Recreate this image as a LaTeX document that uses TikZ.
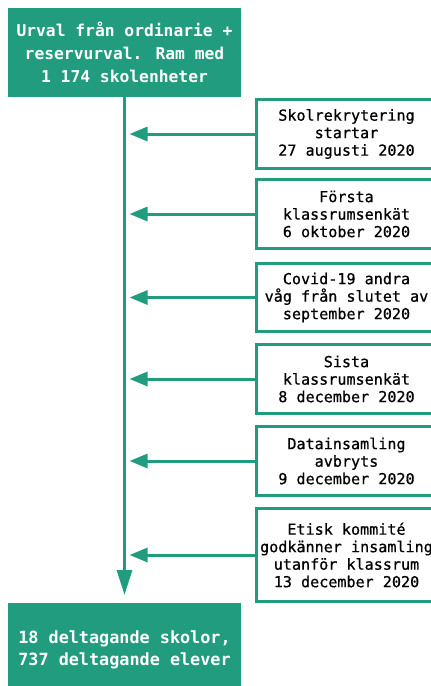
\documentclass[tikz,border=0pt]{standalone}
\usepackage{fontspec}
\setmainfont{DejaVu Sans Mono}
\newfontfamily\evfont{DejaVu Sans Mono}[FakeBold=0.7]
\usetikzlibrary{arrows.meta}
\definecolor{teal1}{RGB}{34,156,126}
\tikzset{
  mainbox/.style={fill=teal1, draw=none, minimum width=233pt, inner sep=0pt, outer sep=0pt,
    text=white, align=center, font=\fontsize{16.3}{23}\selectfont\bfseries},
  evbox/.style={draw=teal1, line width=3pt, fill=white, minimum width=180pt, inner sep=0pt, outer sep=0pt,
    align=center, font=\evfont\fontsize{15.1}{17.5}\selectfont},
  flow/.style={draw=teal1, line width=3pt, -{Triangle[length=25pt,width=15pt]}},
  evarrow/.style={draw=teal1, line width=3pt, -{Triangle[length=18pt,width=14pt]}},
}
\begin{document}
\begin{tikzpicture}[x=1pt,y=-1pt]
\useasboundingbox (0,0) rectangle (431,686);
\node[mainbox, minimum height=89pt] (top) at (124.5,52.5) {Urval från ordinarie +\\reservurval. Ram med\\1 174 skolenheter};
\node[mainbox, minimum height=94pt, font=\fontsize{16.8}{22}\selectfont\bfseries] (bot) at (124.5,650) {18 deltagande skolor,\\737 deltagande elever};

\node[evbox, minimum height=69pt] (e1) at (346.5,134) {Skolrekrytering\\startar\\27 augusti 2020};
\node[evbox, minimum height=69pt] (e2) at (346.5,214) {Första\\klassrumsenkät\\6 oktober 2020};
\node[evbox, minimum height=68pt] (e3) at (346.5,297.5) {Covid-19 andra\\våg från slutet av\\september 2020};
\node[evbox, minimum height=69pt] (e4) at (346.5,379) {Sista\\klassrumsenkät\\8 december 2020};
\node[evbox, minimum height=69pt] (e5) at (346.5,461) {Datainsamling\\avbryts\\9 december 2020};
\node[evbox, minimum height=93pt] (e6) at (346.5,555) {Etisk kommité\\godkänner insamling\\utanför klassrum\\13 december 2020};

\draw[flow, shorten >=8pt] (top.south) -- (bot.north);
\foreach \e in {e1,e2,e3,e4,e5,e6}{
  \draw[evarrow, shorten >=5pt] ([xshift=-1.5pt]\e.west) -- (\e.west -| top.south);
}
\end{tikzpicture}
\end{document}
